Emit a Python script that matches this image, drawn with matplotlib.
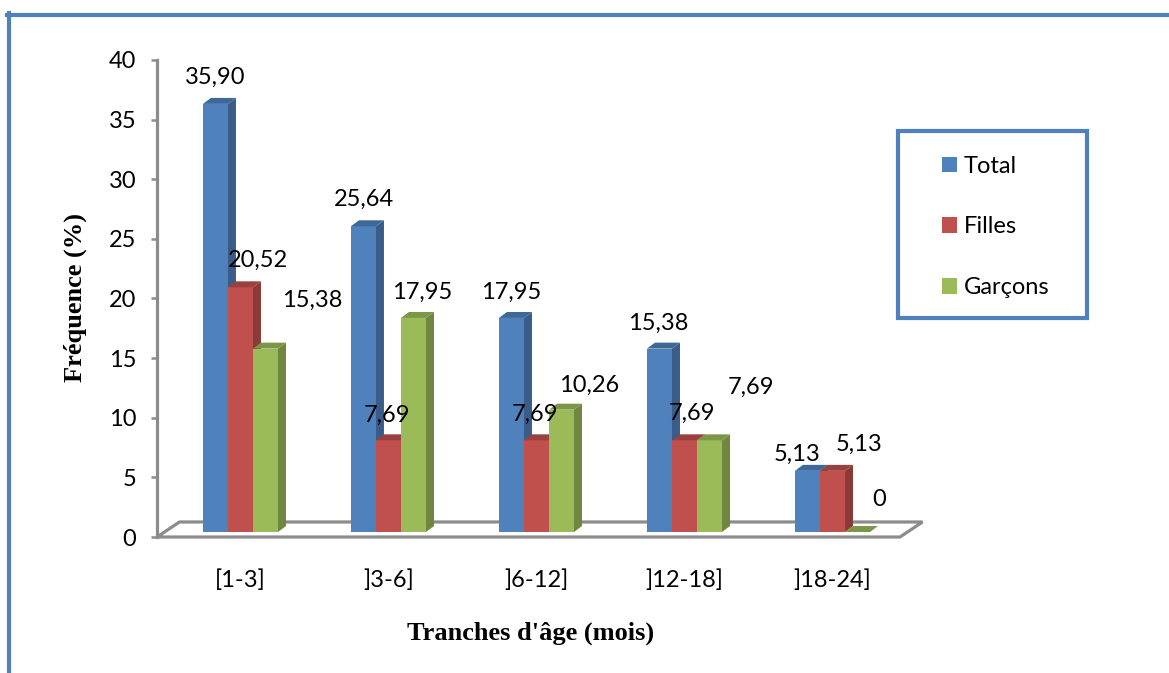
import numpy as np
import matplotlib.pyplot as plt
import matplotlib.transforms as mtransforms
from matplotlib.patches import Polygon, Rectangle, Patch
from matplotlib.lines import Line2D
from matplotlib.colors import to_rgb

# data: frequency (%) by age bracket
categories = ['[1-3]', ']3-6]', ']6-12]', ']12-18]', ']18-24]']
total = [35.90, 25.64, 17.95, 15.38, 5.13]
filles = [20.52, 7.69, 7.69, 7.69, 5.13]
garcons = [15.38, 17.95, 10.26, 7.69, 0]
series_names = ['Total', 'Filles', 'Garçons']
series_values = [total, filles, garcons]
series_colors = ['#4F81BD', '#C0504D', '#9BBB59']

# label offsets (pixels, from top centre of each bar front face)
label_offsets = [
    [(0, 27), (0, 27), (0, 26), (-1, 25), (-10, 16)],
    [(17, 27), (-1, 25), (-1, 26), (7, 27), (27, 26)],
    [(47, 48), (9, 26), (28, 24), (41, 53), (22, 32)],
]

W, H = 1169, 673
plt.rcParams['font.family'] = ['Lato', 'DejaVu Sans']
FS = 17

fig = plt.figure(figsize=(W / 100, H / 100), dpi=100)
ax = fig.add_axes([157 / W, (H - 537) / H, (900 - 157) / W, (537 - 60) / H])
ax.set_xlim(-0.564, 4.456)
ax.set_ylim(0, 40)

bw = 0.169          # bar width
dx, dy = 0.054, 0.5  # 3d depth of the bars
fx, fy = 0.152, 1.26  # depth of the floor

# bars sit slightly behind the front edge of the floor
lift = mtransforms.offset_copy(ax.transData, fig=fig, x=0, y=5, units='dots')


def shade(color, f):
    r, g, b = to_rgb(color)
    return (r * f, g * f, b * f)


# floor
floor = Polygon([(-0.564, 0), (-0.564 + fx, fy), (4.456 + fx, fy), (4.456, 0)],
                closed=True, facecolor='white', edgecolor='#8C8C8C',
                linewidth=2.3, clip_on=False, zorder=1)
ax.add_patch(floor)

x = np.arange(len(categories))
for i in range(len(categories)):
    for k, vals in enumerate(series_values):
        v = vals[i]
        c = series_colors[k]
        x0 = x[i] + (k - 1) * bw - bw / 2
        x1 = x0 + bw
        z = 3 + i * 3 + k
        ax.bar(x0 + bw / 2, v, width=bw, color=c, transform=lift,
               linewidth=0, zorder=z)
        side = Polygon([(x1, 0), (x1 + dx, dy), (x1 + dx, v + dy), (x1, v)],
                       closed=True, facecolor=shade(c, 0.72), linewidth=0,
                       transform=lift, zorder=z)
        top = Polygon([(x0, v), (x0 + dx, v + dy), (x1 + dx, v + dy), (x1, v)],
                      closed=True, facecolor=shade(c, 0.8), linewidth=0,
                      transform=lift, zorder=z)
        ax.add_patch(side)
        ax.add_patch(top)
        txt = '0' if v == 0 else f'{v:.2f}'.replace('.', ',')
        ox, oy = label_offsets[k][i]
        ax.annotate(txt, (x0 + bw / 2, v), xycoords=lift,
                    xytext=(ox, oy), textcoords='offset pixels',
                    ha='center', va='center', fontsize=FS, zorder=30)

# axes styling
for s in ['top', 'right', 'bottom']:
    ax.spines[s].set_visible(False)
ax.spines['left'].set_color('#8C8C8C')
ax.spines['left'].set_linewidth(2.3)
ax.set_yticks(range(0, 41, 5))
ax.tick_params(axis='y', length=4, width=1.8, color='#8C8C8C', pad=11,
               labelsize=FS)
ax.set_xticks(x)
ax.set_xticklabels(categories)
ax.tick_params(axis='x', length=0, pad=23, labelsize=FS)
ax.patch.set_visible(False)

fig.text(531 / W, 1 - 633 / H, "Tranches d'âge (mois)", ha='center', va='center',
         fontsize=19, fontweight='bold', family='Liberation Serif')
fig.text(75 / W, 1 - 298 / H, 'Fréquence (%)', ha='center', va='center',
         rotation=90, fontsize=19, fontweight='bold', family='Liberation Serif')

# legend with its own frame
fig.add_artist(Rectangle((898 / W, 1 - 318 / H), (1087 - 898) / W, (318 - 131) / H,
                         transform=fig.transFigure, facecolor='white',
                         edgecolor='#4F81BD', linewidth=3))
handles = [Patch(facecolor=c, edgecolor='none') for c in series_colors]
fig.legend(handles, series_names, loc='upper left',
           bbox_to_anchor=(930 / W, 1 - 144 / H), frameon=False, borderpad=0,
           handlelength=0.64, handleheight=0.64, handletextpad=0.3,
           labelspacing=1.68, fontsize=FS)

# outer border
fig.add_artist(Line2D([7 / W, 1], [1 - 15 / H, 1 - 15 / H], color='#4F81BD',
                      linewidth=3, transform=fig.transFigure))
fig.add_artist(Line2D([9 / W, 9 / W], [1 - 13 / H, 0], color='#4F81BD',
                      linewidth=3, transform=fig.transFigure))

fig.savefig('out.png', dpi=100)
